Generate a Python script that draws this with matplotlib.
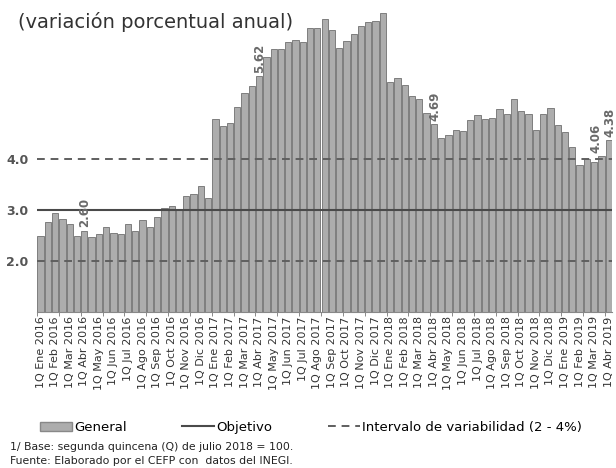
import matplotlib.pyplot as plt
from matplotlib.patches import Patch
from matplotlib.lines import Line2D

plt.rcParams['font.family'] = ['DejaVu Sans']

meses = ['Ene', 'Feb', 'Mar', 'Abr', 'May', 'Jun', 'Jul', 'Ago', 'Sep', 'Oct', 'Nov', 'Dic']

# inflacion general, quincenas 1Q Ene 2016 - 1Q Abr 2019
v2016 = [2.50, 2.76, 2.94, 2.82, 2.73, 2.50, 2.60, 2.47, 2.53, 2.66, 2.56, 2.53,
         2.72, 2.59, 2.81, 2.66, 2.87, 3.05, 3.08, 3.02, 3.28, 3.31, 3.47, 3.24]
v2017 = [4.78, 4.65, 4.71, 5.03, 5.29, 5.43, 5.62, 6.00, 6.16, 6.16, 6.30, 6.33,
         6.29, 6.58, 6.58, 6.74, 6.53, 6.17, 6.32, 6.46, 6.61, 6.69, 6.70, 6.87]
v2018 = [5.52, 5.59, 5.45, 5.24, 5.18, 4.90, 4.69, 4.41, 4.47, 4.57, 4.56, 4.76,
         4.86, 4.78, 4.81, 4.99, 4.88, 5.17, 4.95, 4.88, 4.57, 4.88, 5.01, 4.67]
v2019 = [4.54, 4.23, 3.88, 4.00, 3.95, 4.06, 4.38]
general = v2016 + v2017 + v2018 + v2019

objetivo = 3.0
intervalo = [2.0, 4.0]

etiquetas = []
for anio in [2016, 2017, 2018]:
    for m in meses:
        etiquetas.append('1Q ' + m + ' ' + str(anio))
for m in meses[:4]:
    etiquetas.append('1Q ' + m + ' 2019')

# quincenas con dato anotado y corrimiento horizontal de la etiqueta
anotados = [6, 30, 54, 77, 78]
corrimiento = [0.1, 0.1, 0.2, -0.7, 0.2]

x = list(range(len(general)))

fig = plt.figure(figsize=(6.16, 4.68), dpi=100)
ax = fig.add_axes([0.060, 0.333, 0.934, 0.654])

ax.bar(x, general, width=0.86, color='#adadad', edgecolor='#707070', linewidth=0.6, zorder=2)
ax.axhline(objetivo, color='#4a4a4a', lw=1.5, zorder=3)
for v in intervalo:
    ax.axhline(v, color='#5f5f5f', lw=1.4, ls=(0, (4, 3)), zorder=3)

for i, d in zip(anotados, corrimiento):
    ax.text(i + d, general[i] + 0.06, '%.2f' % general[i], rotation=90, ha='center', va='bottom',
            fontsize=8.5, color='#6a6a6a', fontweight='bold', zorder=4)

ax.set_xlim(-0.5, len(general) - 0.5)
ax.set_ylim(1.0, 7.0)
ax.set_yticks([2.0, 3.0, 4.0])
ax.set_yticklabels(['2.0', '3.0', '4.0'], fontsize=9, color='#555555', fontweight='bold')
ax.tick_params(axis='y', length=0, pad=6)

ax.set_xticks(x[::2])
ax.set_xticklabels(etiquetas, rotation=90, fontsize=8, color='#333333')
ax.set_xticks([k - 0.5 for k in range(0, len(general) + 1, 3)], minor=True)
ax.tick_params(axis='x', which='major', length=0, pad=3)
ax.tick_params(axis='x', which='minor', length=3, color='#777777')

for s in ['top', 'right', 'left']:
    ax.spines[s].set_visible(False)
ax.spines['bottom'].set_color('#888888')

fig.text(0.030, 0.940, '(variación porcentual anual)', fontsize=14, color='#333333')

handles = [Patch(facecolor='#adadad', edgecolor='#888888'),
           Line2D([0], [0], color='#4a4a4a', lw=1.5),
           Line2D([0], [0], color='#5f5f5f', lw=1.4, ls=(0, (4, 3)))]
fig.legend(handles, ['General', 'Objetivo', 'Intervalo de variabilidad (2 - 4%)'],
           loc='center', bbox_to_anchor=(0.505, 0.087), ncol=3, frameon=False,
           fontsize=9.5, handlelength=2.4, handletextpad=0.2, columnspacing=4.2)

fig.text(0.016, 0.038, '1/ Base: segunda quincena (Q) de julio 2018 = 100.', fontsize=7.8, color='#222222')
fig.text(0.016, 0.008, 'Fuente: Elaborado por el CEFP con  datos del INEGI.', fontsize=7.8, color='#222222')

fig.savefig('out.png', dpi=100)
